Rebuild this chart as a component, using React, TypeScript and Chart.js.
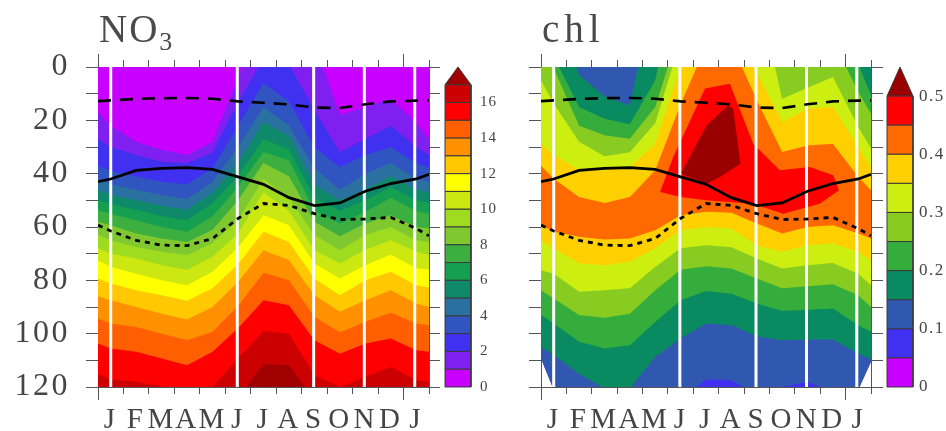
import React, { useEffect, useRef } from "react";
import { Chart, registerables } from "chart.js";

Chart.register(...registerables);

const columns = [0, 0.5, 1.5, 2.5, 3.5, 4.5, 5.5, 6.5, 7.5, 8.5, 9.5, 10.5, 11.5, 12.5, 13];
const monthLabels = ["J", "F", "M", "A", "M", "J", "J", "A", "S", "O", "N", "D", "J"];
const whiteLines = [0.5, 5.47, 8.47, 10.46, 12.44];
const longDash = [12.8, 12.5, 12, 11.7, 11.6, 11.9, 12.9, 13.4, 14, 15.2, 15.4, 14, 12.9, 12.6, 12.5];
const solidLine = [43, 42, 38.8, 38, 37.7, 38.4, 41.2, 44, 49, 52, 51, 46.6, 43.7, 42, 40.2];
const shortDash = [59.3, 61.5, 65, 66.8, 67, 64.3, 56.8, 51.2, 51.9, 55, 57.2, 57, 56.4, 60.6, 63.3];

const no3Colors = ["#C800FF", "#8020F0", "#4030F0", "#3055C0", "#2A70A0", "#0E8A6A", "#14A050", "#3DAE40", "#80C830", "#9FDC20", "#CCE810", "#FFFF00", "#FFC800", "#FF9000", "#FF5F00", "#FF0000", "#CC0000", "#A00000"];
const no3L1 = [17, 22, 28, 31, 33, 28, 4, -20, -15, -9, 18, 15, 12, 21, 27];
const no3L2 = [27, 30, 33, 35.5, 36, 32, 13, -3, -1, 16, 32, 27, 22, 30, 33];
const no3L3 = [37, 39, 41, 43, 44, 38, 22, 6, 13, 30, 37.5, 33, 30, 36, 38];
const no3L4 = [42, 44, 46, 48, 49.5, 43, 30, 15, 22, 38, 46, 40, 36, 42, 43];
const no3L5 = [46, 48, 50, 52, 53.5, 47, 36, 20.6, 26, 44, 50, 46, 41, 46, 47];
const no3L6 = [50, 51.5, 53.5, 56, 57.5, 51, 41, 27, 31, 49, 54, 50, 45, 50, 51];
const no3L7 = [53.7, 55, 57.5, 60, 61.8, 56, 45, 32, 35, 53.7, 58.7, 54.3, 49, 54, 55];
const no3L8 = [58, 59.3, 62.4, 64.3, 65.6, 61, 50, 36, 41, 58, 63.5, 58.7, 55.6, 60, 60.6];
const no3L9 = [63, 65, 67.5, 69.3, 70.6, 66, 57.4, 42, 49, 63, 68.7, 63, 60, 65, 65.6];
const no3L10 = [68, 70, 71.8, 74.3, 76, 71.2, 62.4, 47, 54, 68.7, 73.7, 68.5, 65, 69.3, 70.5];
const no3L11 = [72.5, 75, 77.5, 80, 81.8, 76.8, 67.7, 55.6, 59.3, 73.7, 79.3, 74.3, 70.3, 75.5, 76];
const no3L12 = [79.3, 81.2, 83.7, 85.6, 87.7, 83, 74, 61.8, 65.6, 79.3, 85.6, 80, 76.8, 81.8, 82.7];
const no3L13 = [86, 87.5, 90, 92.5, 94.7, 90, 80.6, 68.7, 72.5, 85.6, 91.8, 87.5, 83.7, 88.7, 90];
const no3L14 = [94.3, 96.2, 97.5, 100, 102.5, 99.3, 89.6, 77.2, 80, 93.7, 99.6, 95.5, 92.2, 96.2, 96.8];
const no3L15 = [103.7, 105.6, 106.8, 109.3, 111.8, 106.8, 98, 87.5, 89.3, 102.5, 107.5, 103.7, 101.8, 106.2, 106.8];
const no3L16 = [115, 117.2, 118, 119.7, 121, 120, 109.3, 99, 100, 115.6, 120, 116.2, 112.4, 117.5, 118];
const no3L17 = [130, 130, 130, 130, 130, 130, 124, 111.5, 111.8, 125, 130, 128, 125, 130, 130];
const no3Levels = [no3L1, no3L2, no3L3, no3L4, no3L5, no3L6, no3L7, no3L8, no3L9, no3L10, no3L11, no3L12, no3L13, no3L14, no3L15, no3L16, no3L17];
const no3Floor = [130, 130, 130, 130, 130, 130, 130, 130, 130, 130, 130, 130, 130, 130, 130];
const no3Ceiling = [-30, -30, -30, -30, -30, -30, -30, -30, -30, -30, -30, -30, -30, -30, -30];

const chlColors = ["#C800FF", "#4030F0", "#3058B0", "#0A8A60", "#35AD3C", "#88CC22", "#CCEE10", "#FFD000", "#FF6A00", "#FF0000", "#990000"];
const surface = [-10, -10, -10, -10, -10, -10, -10, -10, -10, -10, -10, -10, -10, -10, -10];
const chlBot05 = [109.3, 121, 125, 125, 125, 125, 125, 125, 125, 125, 125, 125, 125, 121, 110.5];
const chlBot10 = [109.3, 121, 125, 125, 125, 125, 124.7, 117.2, 117.5, 123.2, 120, 118, 122.2, 121, 110.5];
const chlTop15 = [-60, -31, 3, 11, 14.4, -30, -10, -10, -10, -10, -10, -10, -10, -10, -10];
const chlBot15 = [105, 108, 115, 120.5, 120.5, 108.7, 101.8, 96.2, 96.8, 101, 102.5, 102.2, 102.2, 107.4, 109.5];
const chlTop20 = [-20, -4, 15, 19.4, 21.5, 5, -40, -10, -10, -10, -10, -10, -30, -1, 10.6];
const chlBot20 = [93, 96.2, 103, 105.6, 104.3, 95.6, 87.5, 84, 85, 88.7, 91.5, 91, 90.6, 96.8, 99.3];
const chlTop25 = [-10, 0.5, 22, 25.6, 26.9, 15, -15, -10, -10, -10, -10, -10, -10, 9.4, 17.5];
const chlBot25 = [83.7, 86.8, 93, 94, 92.5, 83.7, 76, 74.7, 75.6, 79.3, 83, 82.2, 81.5, 85.6, 90];
const chlTop30 = [5, 13.7, 28, 33.5, 32, 21, -10, -10, -10, -30, 11.9, 7.75, 3.75, 22.5, 30.6];
const chlBot30 = [76.2, 77.5, 84.3, 83.7, 83, 75, 68, 66.8, 67.6, 71.8, 75.6, 74.3, 73.5, 77.5, 81.8];
const chlTop35 = [28.7, 33, 38.5, 38.75, 37.5, 29, 0, -10, -10, 2, 20.6, 15.6, 15, 30, 37.5];
const chlBot35 = [65, 68, 73.7, 74.3, 73, 68, 61.2, 60, 60.6, 66.8, 69.3, 66.8, 66.2, 69.3, 72.5];
const chlTop40 = [37, 41.9, 48.75, 51, 48.75, 38.75, 14, -8, -9, 12.5, 31.9, 29.4, 28.75, 41.25, 46.25];
const chlBot40 = [59.3, 61.8, 63.7, 64.7, 64.3, 61.2, 55.6, 54.3, 54.7, 58.7, 62.4, 60, 59.3, 62.4, 64.3];
const chlRedMonth = [4.69, 5.21, 6.46, 7.44, 8.36, 9.41, 10.59, 11.51, 11.74, 10.98, 9.54, 8.35, 6.5, 5.5];
const chlRedDepth = [46.9, 33.75, 8.1, 6.25, 28.75, 38.75, 37.5, 40.6, 46.25, 51.25, 55, 51.25, 50, 48.75];
const chlPeakMonth = [5.51, 6.52, 7.37, 7.57, 7.86, 7.05, 6.52];
const chlPeakDepth = [40, 21.9, 14.4, 15.6, 36.25, 41.25, 43.75];

const no3BarTicks = [0, 2, 4, 6, 8, 10, 12, 14, 16];
const chlBarTicks = [0, 0.1, 0.2, 0.3, 0.4, 0.5];

const TEXT = "#454545";
const AXIS = "#555555";
const SERIF = "'Liberation Serif'";

function band(top: number[], bottom: number[]) {
  const upper = columns.map((x, i) => ({ x, y: top[i] }));
  const lower = columns.map((x, i) => ({ x, y: bottom[i] })).reverse();
  return [...upper, ...lower, upper[0]];
}

function blob(months: number[], depths: number[]) {
  const pts = months.map((x, i) => ({ x, y: depths[i] }));
  return [...pts, pts[0]];
}

function area(data: any[], color: string, order: number) {
  return { type: "scatter", data, showLine: true, fill: "shape", backgroundColor: color, borderColor: color, borderWidth: 0, pointRadius: 0, tension: 0, order };
}

function overlays() {
  const sets: any[] = whiteLines.map((x) => ({
    type: "scatter", data: [{ x, y: 0 }, { x, y: 120 }], showLine: true, fill: false,
    borderColor: "#FFFFFF", borderWidth: 3, pointRadius: 0, order: 3,
  }));
  const line = (values: number[], dash: number[], width: number) => ({
    type: "scatter", data: columns.map((x, i) => ({ x, y: values[i] })), showLine: true, fill: false,
    borderColor: "#000000", borderWidth: width, borderDash: dash, pointRadius: 0, tension: 0, order: 2,
  });
  sets.push(line(longDash, [13, 9], 2.6), line(solidLine, [], 2.8), line(shortDash, [5, 5], 2.8));
  return sets;
}

const spacing = (px: string) => ({
  id: "letterSpacing",
  beforeDraw(chart: any) { chart.ctx.letterSpacing = px; },
});

const longTicks = (scale: any) => { scale.ticks = [{ value: 0 }, { value: 12 }]; };
const tickOnly = (position: string, length: number, weight: number, extra: any = {}) => ({
  type: "linear", position, min: 0, max: 13, weight,
  border: { display: false },
  grid: { drawOnChartArea: false, tickLength: length, color: AXIS },
  ticks: { stepSize: 1, display: false, autoSkip: false, maxRotation: 0 },
  ...extra,
});

function contourConfig(datasets: any[], showDepth: boolean, leftW: number, rightW: number) {
  return {
    type: "scatter",
    data: { datasets },
    plugins: [spacing("2.5px")],
    options: {
      animation: false, responsive: false,
      layout: { padding: 0 },
      plugins: { legend: { display: false }, tooltip: { enabled: false } },
      scales: {
        x: {
          type: "linear", position: "bottom", min: 0, max: 13, weight: 2,
          border: { display: true, color: AXIS },
          grid: { drawOnChartArea: false, tickLength: 7, color: AXIS },
          ticks: {
            stepSize: 1, autoSkip: false, maxRotation: 0, minRotation: 0, padding: 9, labelOffset: 12.7,
            color: TEXT, font: { family: SERIF, size: 29 },
            callback: (v: number) => monthLabels[v] ?? "",
          },
          afterFit: (s: any) => { s.height = 44; },
        },
        xBottomLong: tickOnly("bottom", 13, 1, { afterBuildTicks: longTicks, afterFit: (s: any) => { s.height = 0; } }),
        xTop: tickOnly("top", 7, 2, { afterFit: (s: any) => { s.height = 67; } }),
        xTopLong: tickOnly("top", 13, 1, { afterBuildTicks: longTicks, afterFit: (s: any) => { s.height = 0; } }),
        y: {
          type: "linear", position: "left", reverse: true, min: 0, max: 120,
          border: { display: true, color: AXIS },
          grid: { drawOnChartArea: false, tickLength: 12, color: AXIS },
          ticks: {
            stepSize: 10, autoSkip: false, padding: 16, color: TEXT,
            font: { family: SERIF, size: 32 },
            callback: (v: number) => (showDepth && v % 20 === 0 ? String(v) : ""),
          },
          afterFit: (s: any) => { s.width = leftW; },
        },
        yRight: {
          type: "linear", position: "right", reverse: true, min: 0, max: 120,
          border: { display: true, color: AXIS },
          grid: { drawOnChartArea: false, tickLength: 12, color: AXIS },
          ticks: { stepSize: 10, display: false },
          afterFit: (s: any) => { s.width = rightW; },
        },
      },
    },
  };
}

function barConfig(colors: string[], step: number, ticks: number[], fontSize: number, letter: string, gap: number) {
  const datasets = colors.map((color, i) => {
    const lo = i * step;
    const hi = (i + 1) * step;
    const rect = i === colors.length - 1
      ? [{ x: 0, y: lo }, { x: 0.5, y: hi }, { x: 1, y: lo }, { x: 0, y: lo }]
      : [{ x: 0, y: lo }, { x: 0, y: hi }, { x: 1, y: hi }, { x: 1, y: lo }, { x: 0, y: lo }];
    return { type: "scatter", data: rect, showLine: true, fill: "shape", backgroundColor: color, borderColor: "#3a3a3a", borderWidth: 1, pointRadius: 0, tension: 0, clip: false, order: i };
  });
  return {
    type: "scatter",
    data: { datasets },
    plugins: [spacing(letter)],
    options: {
      animation: false, responsive: false,
      layout: { padding: { top: 67, bottom: 44, left: 5, right: 0 } },
      plugins: { legend: { display: false }, tooltip: { enabled: false } },
      scales: {
        x: { type: "linear", display: false, min: 0, max: 1 },
        y: {
          type: "linear", position: "right", min: 0, max: colors.length * step,
          border: { display: false },
          grid: { display: false, drawTicks: false },
          afterBuildTicks: (s: any) => { s.ticks = ticks.map((value) => ({ value })); },
          afterFit: (s: any) => { s.width = 33; },
          ticks: {
            autoSkip: false, padding: gap, color: TEXT, font: { family: SERIF, size: fontSize },
            callback: (v: number) => String(v),
          },
        },
      },
    },
  };
}

function no3Datasets() {
  const sets: any[] = [area(band(no3Ceiling, no3Floor), no3Colors[0], 100)];
  no3Levels.forEach((level, i) => sets.push(area(band(level, no3Floor), no3Colors[i + 1], 99 - i)));
  return [...sets, ...overlays()];
}

function chlDatasets() {
  const sets: any[] = [
    area(band(surface, chlBot05), chlColors[1], 100),
    area(band(surface, chlBot10), chlColors[2], 99),
    area(band(chlTop15, chlBot15), chlColors[3], 98),
    area(band(chlTop20, chlBot20), chlColors[4], 97),
    area(band(chlTop25, chlBot25), chlColors[5], 96),
    area(band(chlTop30, chlBot30), chlColors[6], 95),
    area(band(chlTop35, chlBot35), chlColors[7], 94),
    area(band(chlTop40, chlBot40), chlColors[8], 93),
    area(blob(chlRedMonth, chlRedDepth), chlColors[9], 92),
    area(blob(chlPeakMonth, chlPeakDepth), chlColors[10], 91),
  ];
  return [...sets, ...overlays()];
}

function Panel({ config, left, width }: { config: () => any; left: number; width: number }) {
  const ref = useRef<HTMLCanvasElement>(null);
  useEffect(() => {
    const chart = new Chart(ref.current as HTMLCanvasElement, config());
    return () => chart.destroy();
  }, []);
  return <canvas ref={ref} width={width} height={431} style={{ position: "absolute", left, top: 0, width, height: 431 }} />;
}

const titleStyle: React.CSSProperties = {
  position: "absolute", top: 6, fontFamily: SERIF, fontSize: 39, lineHeight: "46px",
  color: "#4a4a4a", letterSpacing: 2, whiteSpace: "nowrap",
};

export default function App() {
  return (
    <div style={{ position: "absolute", left: 0, top: 0, width: 946, height: 431, background: "#fff", overflow: "hidden" }}>
      <Panel left={0} width={440} config={() => contourConfig(no3Datasets(), true, 98, 11)} />
      <Panel left={440} width={64} config={() => barConfig(no3Colors, 1, no3BarTicks, 15, "1px", 9)} />
      <Panel left={500} width={385} config={() => contourConfig(chlDatasets(), false, 41, 14)} />
      <Panel left={882} width={64} config={() => barConfig(chlColors, 0.05, chlBarTicks, 17, "1.5px", 6)} />
      <div style={{ ...titleStyle, left: 99 }}>NO<sub style={{ fontSize: 26, verticalAlign: -8, lineHeight: 0 }}>3</sub></div>
      <div style={{ ...titleStyle, left: 542, letterSpacing: 5 }}>chl</div>
    </div>
  );
}
